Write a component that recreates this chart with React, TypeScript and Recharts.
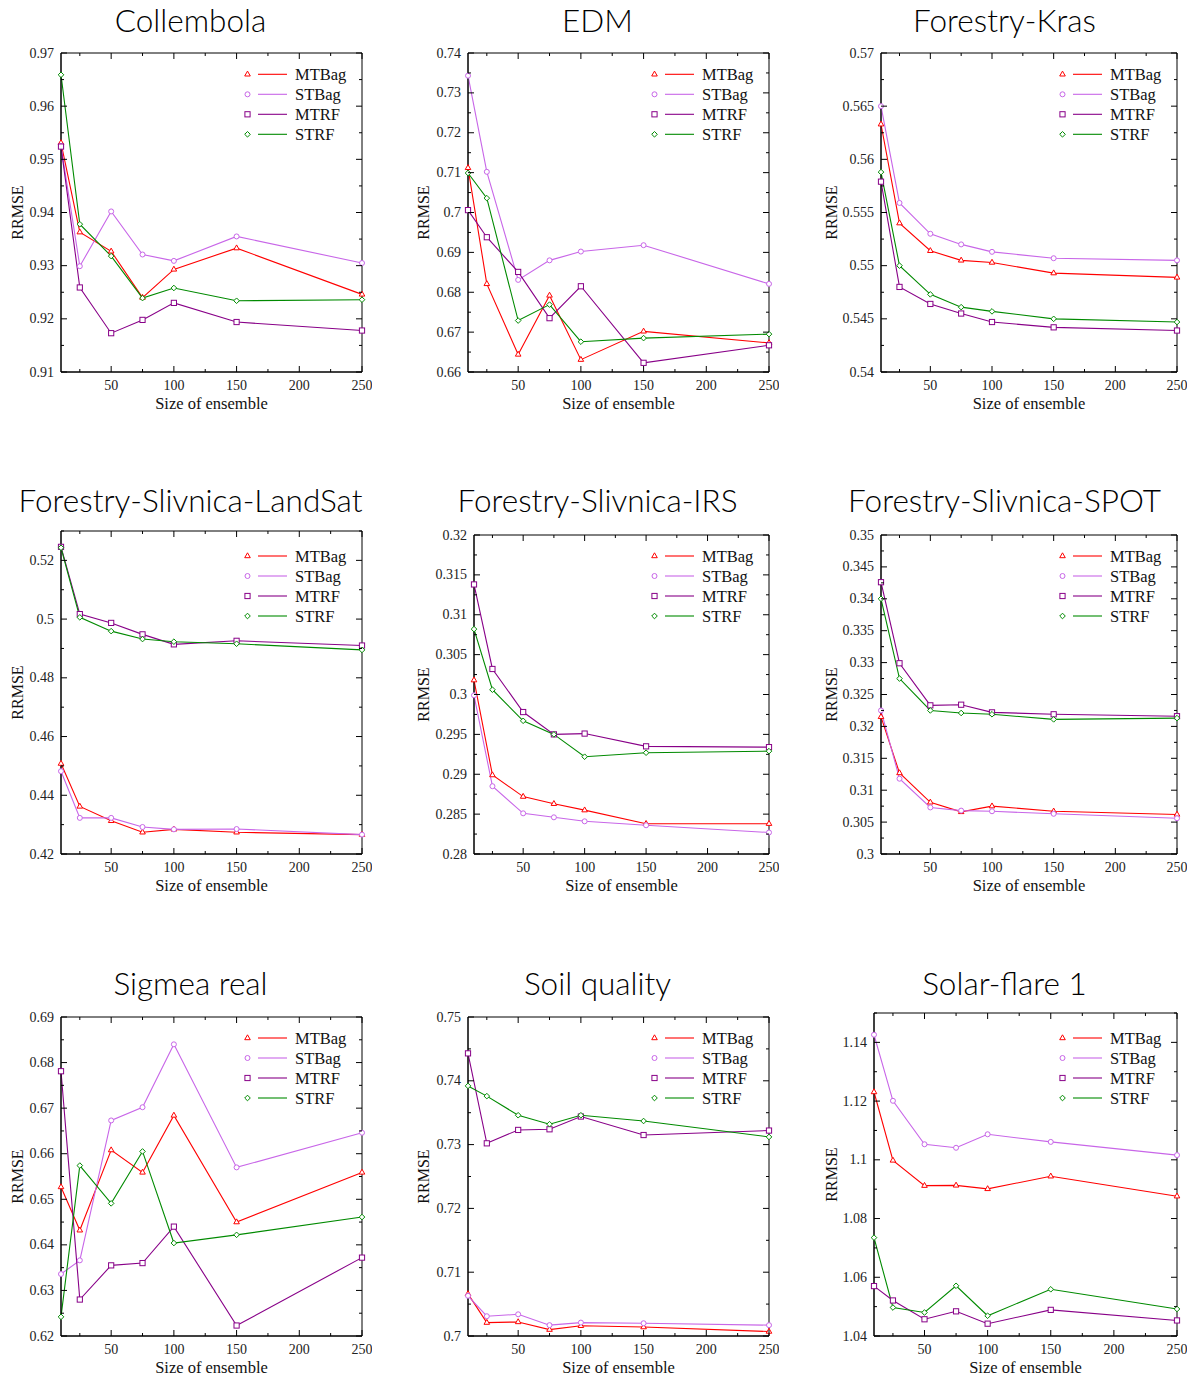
import React from "react";
import { LineChart, Line, XAxis, YAxis, ReferenceArea } from "recharts";

// ensemble sizes on the x axis
const SIZES = [10, 25, 50, 75, 100, 150, 250];
const X_TICKS = [25, 50, 75, 100, 125, 150, 175, 200, 225, 250];
const X_LABELED = [50, 100, 150, 200, 250];

const SERIES = ["MTBag", "STBag", "MTRF", "STRF"];
const COLORS: Record<string, string> = { MTBag: "#ff0000", STBag: "#c866e8", MTRF: "#880088", STRF: "#008a00" };
const SHAPES: Record<string, string> = { MTBag: "triangle", STBag: "circle", MTRF: "square", STRF: "diamond" };

// Collembola
const collembolaMTBag = [0.9531, 0.9363, 0.9327, 0.924, 0.9293, 0.9333, 0.9246];
const collembolaSTBag = [0.9525, 0.9299, 0.9402, 0.9321, 0.9309, 0.9355, 0.9305];
const collembolaMTRF = [0.9524, 0.9259, 0.9173, 0.9198, 0.923, 0.9194, 0.9178];
const collembolaSTRF = [0.9659, 0.9378, 0.9318, 0.9239, 0.9258, 0.9234, 0.9236];
const collembolaYTicks = [0.91, 0.92, 0.93, 0.94, 0.95, 0.96, 0.97];

// EDM
const edmMTBag = [0.7112, 0.6821, 0.6644, 0.6792, 0.6631, 0.6702, 0.6673];
const edmSTBag = [0.7343, 0.7102, 0.6831, 0.688, 0.6902, 0.6918, 0.6821];
const edmMTRF = [0.7006, 0.6938, 0.6851, 0.6735, 0.6815, 0.6623, 0.6667];
const edmSTRF = [0.7099, 0.7036, 0.6729, 0.6769, 0.6676, 0.6685, 0.6695];
const edmYTicks = [0.66, 0.67, 0.68, 0.69, 0.7, 0.71, 0.72, 0.73, 0.74];

// Forestry-Kras
const krasMTBag = [0.5633, 0.554, 0.5514, 0.5505, 0.5503, 0.5493, 0.5489];
const krasSTBag = [0.565, 0.5559, 0.553, 0.552, 0.5513, 0.5507, 0.5505];
const krasMTRF = [0.5579, 0.548, 0.5464, 0.5455, 0.5447, 0.5442, 0.5439];
const krasSTRF = [0.5588, 0.55, 0.5473, 0.5461, 0.5457, 0.545, 0.5447];
const krasYTicks = [0.54, 0.545, 0.55, 0.555, 0.56, 0.565, 0.57];

// Forestry-Slivnica-LandSat
const landsatMTBag = [0.4508, 0.4362, 0.4313, 0.4274, 0.4284, 0.4274, 0.4266];
const landsatSTBag = [0.4482, 0.4323, 0.4323, 0.4292, 0.4284, 0.4285, 0.4266];
const landsatMTRF = [0.5246, 0.5017, 0.4987, 0.4948, 0.4914, 0.4926, 0.491];
const landsatSTRF = [0.5243, 0.5006, 0.4959, 0.4932, 0.4923, 0.4916, 0.4895];
const landsatYTicks = [0.42, 0.44, 0.46, 0.48, 0.5, 0.52];

// Forestry-Slivnica-IRS
const irsMTBag = [0.3018, 0.2899, 0.2872, 0.2863, 0.2855, 0.2838, 0.2838];
const irsSTBag = [0.2999, 0.2885, 0.2851, 0.2846, 0.2841, 0.2836, 0.2827];
const irsMTRF = [0.3138, 0.3032, 0.2978, 0.295, 0.2951, 0.2935, 0.2934];
const irsSTRF = [0.3082, 0.3006, 0.2967, 0.295, 0.2922, 0.2927, 0.2929];
const irsYTicks = [0.28, 0.285, 0.29, 0.295, 0.3, 0.305, 0.31, 0.315, 0.32];

// Forestry-Slivnica-SPOT
const spotMTBag = [0.3215, 0.3127, 0.3081, 0.3066, 0.3075, 0.3067, 0.3062];
const spotSTBag = [0.3225, 0.3118, 0.3073, 0.3068, 0.3067, 0.3063, 0.3056];
const spotMTRF = [0.3426, 0.3299, 0.3233, 0.3234, 0.3222, 0.3219, 0.3216];
const spotSTRF = [0.34, 0.3275, 0.3225, 0.3221, 0.3219, 0.3211, 0.3213];
const spotYTicks = [0.3, 0.305, 0.31, 0.315, 0.32, 0.325, 0.33, 0.335, 0.34, 0.345, 0.35];

// Sigmea real
const sigmeaMTBag = [0.6527, 0.6432, 0.6608, 0.6559, 0.6684, 0.645, 0.6559];
const sigmeaSTBag = [0.6336, 0.6366, 0.6673, 0.6702, 0.684, 0.657, 0.6646];
const sigmeaMTRF = [0.6781, 0.628, 0.6355, 0.636, 0.644, 0.6223, 0.6372];
const sigmeaSTRF = [0.6242, 0.6574, 0.6491, 0.6605, 0.6404, 0.6422, 0.6461];
const sigmeaYTicks = [0.62, 0.63, 0.64, 0.65, 0.66, 0.67, 0.68, 0.69];

// Soil quality
const soilMTBag = [0.7066, 0.7021, 0.7022, 0.701, 0.7016, 0.7014, 0.7007];
const soilSTBag = [0.7063, 0.7031, 0.7034, 0.7017, 0.7021, 0.702, 0.7017];
const soilMTRF = [0.7443, 0.7302, 0.7323, 0.7324, 0.7344, 0.7315, 0.7322];
const soilSTRF = [0.7392, 0.7376, 0.7346, 0.7332, 0.7346, 0.7337, 0.7312];
const soilYTicks = [0.7, 0.71, 0.72, 0.73, 0.74, 0.75];

// Solar-flare 1
const solarMTBag = [1.1231, 1.0998, 1.0912, 1.0913, 1.0901, 1.0944, 1.0876];
const solarSTBag = [1.1426, 1.1201, 1.1053, 1.1041, 1.1087, 1.1061, 1.1016];
const solarMTRF = [1.057, 1.0521, 1.0457, 1.0484, 1.0442, 1.0489, 1.0453];
const solarSTRF = [1.0735, 1.0497, 1.048, 1.0571, 1.0469, 1.0559, 1.0492];
const solarYTicks = [1.04, 1.06, 1.08, 1.1, 1.12, 1.14];

const SERIF = "'Liberation Serif', 'Times New Roman', serif";
const SANS = "Lato, 'Open Sans', sans-serif";

// box = plot area in page pixels [left, top, right, bottom]
const PANELS = [
  { title: "Collembola", box: [61, 53, 362, 372], yTicks: collembolaYTicks, yMax: 0.97, values: [collembolaMTBag, collembolaSTBag, collembolaMTRF, collembolaSTRF], col: 0, row: 0 },
  { title: "EDM", box: [468, 53, 769, 372], yTicks: edmYTicks, yMax: 0.74, values: [edmMTBag, edmSTBag, edmMTRF, edmSTRF], col: 1, row: 0 },
  { title: "Forestry-Kras", box: [881, 53, 1177, 372], yTicks: krasYTicks, yMax: 0.57, values: [krasMTBag, krasSTBag, krasMTRF, krasSTRF], col: 2, row: 0 },
  { title: "Forestry-Slivnica-LandSat", box: [61, 531, 362, 854], yTicks: landsatYTicks, yMax: 0.53, values: [landsatMTBag, landsatSTBag, landsatMTRF, landsatSTRF], col: 0, row: 1 },
  { title: "Forestry-Slivnica-IRS", box: [474, 535, 769, 854], yTicks: irsYTicks, yMax: 0.32, values: [irsMTBag, irsSTBag, irsMTRF, irsSTRF], col: 1, row: 1 },
  { title: "Forestry-Slivnica-SPOT", box: [881, 535, 1177, 854], yTicks: spotYTicks, yMax: 0.35, values: [spotMTBag, spotSTBag, spotMTRF, spotSTRF], col: 2, row: 1 },
  { title: "Sigmea real", box: [61, 1017, 362, 1336], yTicks: sigmeaYTicks, yMax: 0.69, values: [sigmeaMTBag, sigmeaSTBag, sigmeaMTRF, sigmeaSTRF], col: 0, row: 2 },
  { title: "Soil quality", box: [468, 1017, 769, 1336], yTicks: soilYTicks, yMax: 0.75, values: [soilMTBag, soilSTBag, soilMTRF, soilSTRF], col: 1, row: 2 },
  { title: "Solar-flare 1", box: [874, 1013, 1177, 1336], yTicks: solarYTicks, yMax: 1.15, values: [solarMTBag, solarSTBag, solarMTRF, solarSTRF], col: 2, row: 2 },
];

const TITLE_X = [190.5, 597.5, 1004.5];
const TITLE_Y = [32, 512, 994.5];
const LEGEND_Y = [74.3, 556, 1038];
const YLABEL_X = [23, 429, 836.5];

// chart margins around the plot box
const M_LEFT = 60;
const M_TOP = 10;
const M_RIGHT = 10;

const fmt = (v: number) => String(Number(v.toFixed(4)));
const near = (a: number, list: number[]) => list.some((b) => Math.abs(a - b) < 1e-9);

function withMinors(majors: number[], max: number) {
  const step = majors[1] - majors[0];
  const out: number[] = [];
  majors.forEach((m) => {
    out.push(m);
    const h = m + step / 2;
    if (h <= max + 1e-9) out.push(Number(h.toFixed(5)));
  });
  return out;
}

function Marker({ kind, cx, cy, color }: any) {
  if (cx == null || cy == null) return null;
  const common = { fill: "#fff", stroke: color, strokeWidth: 1 };
  if (kind === "triangle")
    return <polygon {...common} points={`${cx},${cy - 3.2} ${cx - 2.8},${cy + 1.7} ${cx + 2.8},${cy + 1.7}`} />;
  if (kind === "circle") return <circle {...common} cx={cx} cy={cy} r={2.5} />;
  if (kind === "square") return <rect {...common} x={cx - 2.6} y={cy - 2.6} width={5.2} height={5.2} />;
  return <polygon {...common} points={`${cx},${cy - 2.8} ${cx + 2.8},${cy} ${cx},${cy + 2.8} ${cx - 2.8},${cy}`} />;
}

const tickText = { fontFamily: SERIF, fontSize: 14, fill: "#222" };

function Panel({ p }: { p: any }) {
  const [L, T, R, B] = p.box;
  const yTicks = withMinors(p.yTicks, p.yMax);
  const data = SIZES.map((s, i) => {
    const row: any = { x: s };
    SERIES.forEach((name, k) => (row[name] = p.values[k][i]));
    return row;
  });
  const w = R - L + M_LEFT + M_RIGHT;
  const h = B - T + M_TOP + 30;
  const plotTop = M_TOP;
  const plotRight = w - M_RIGHT;

  // bottom ticks, mirrored on the top edge, all pointing inward
  const bottomTick = (t: any) => {
    const v = t.payload.value;
    const major = near(v, X_LABELED);
    const len = major ? 6 : 3;
    return (
      <g>
        <line x1={t.x} x2={t.x} y1={t.y} y2={t.y - len} stroke="#000" strokeWidth={1} />
        <line x1={t.x} x2={t.x} y1={plotTop} y2={plotTop + len} stroke="#000" strokeWidth={1} />
        {major && <text x={t.x} y={t.y + 18} textAnchor="middle" {...tickText}>{fmt(v)}</text>}
      </g>
    );
  };
  // left ticks, mirrored on the right edge
  const leftTick = (t: any) => {
    const v = t.payload.value;
    const major = near(v, p.yTicks);
    const len = major ? 6 : 3;
    return (
      <g>
        <line x1={t.x} x2={t.x + len} y1={t.y} y2={t.y} stroke="#000" strokeWidth={1} />
        <line x1={plotRight} x2={plotRight - len} y1={t.y} y2={t.y} stroke="#000" strokeWidth={1} />
        {major && <text x={t.x - 7} y={t.y + 4.5} textAnchor="end" {...tickText}>{fmt(v)}</text>}
      </g>
    );
  };

  return (
    <div style={{ position: "absolute", left: L - M_LEFT, top: T - M_TOP }}>
      <LineChart width={w} height={h} data={data} margin={{ top: M_TOP, right: M_RIGHT, left: 0, bottom: 0 }}>
        <XAxis dataKey="x" type="number" domain={[10, 250]} ticks={X_TICKS} interval={0}
          height={30} tickSize={0} tickMargin={0} tickLine={false} tick={bottomTick}
          axisLine={{ stroke: "#000", strokeWidth: 1 }} />
        <YAxis type="number" domain={[p.yTicks[0], p.yMax]} ticks={yTicks} interval={0}
          width={M_LEFT} tickSize={0} tickMargin={0} tickLine={false} tick={leftTick}
          axisLine={{ stroke: "#000", strokeWidth: 1 }} />
        <ReferenceArea x1={10} x2={250} y1={p.yTicks[0]} y2={p.yMax} fill="none" fillOpacity={0}
          stroke="#000" strokeWidth={1} ifOverflow="visible" />
        {SERIES.map((name) => (
          <Line key={name} type="linear" dataKey={name} stroke={COLORS[name]}
            strokeWidth={1.1} isAnimationActive={false} activeDot={false}
            dot={(d: any) => <Marker key={`${name}-${d.index}`} kind={SHAPES[name]} cx={d.cx} cy={d.cy} color={COLORS[name]} />} />
        ))}
      </LineChart>
    </div>
  );
}

function Overlay() {
  return (
    <svg width={1190} height={1377} style={{ position: "absolute", left: 0, top: 0, pointerEvents: "none" }}>
      {PANELS.map((p) => {
        const [L, T, R, B] = p.box;
        const cy = (T + B) / 2;
        const ly = LEGEND_Y[p.row];
        return (
          <g key={p.title}>
            <text x={TITLE_X[p.col]} y={TITLE_Y[p.row]} textAnchor="middle" fontFamily={SANS} fontSize={31.5} fontWeight={300} fill="#000">{p.title}</text>
            <text x={(L + R) / 2} y={B + 37} textAnchor="middle" fontFamily={SERIF} fontSize={16.5} fill="#111">Size of ensemble</text>
            <text x={YLABEL_X[p.col]} y={cy} textAnchor="middle" fontFamily={SERIF} fontSize={16} fill="#111"
              transform={`rotate(-90 ${YLABEL_X[p.col]} ${cy})`}>RRMSE</text>
            {SERIES.map((name, i) => {
              const y = ly + 20 * i;
              return (
                <g key={name}>
                  <Marker kind={SHAPES[name]} cx={R - 114.5} cy={y} color={COLORS[name]} />
                  <line x1={R - 104} x2={R - 75} y1={y} y2={y} stroke={COLORS[name]} strokeWidth={1.1} />
                  <text x={R - 67} y={y + 6} fontFamily={SERIF} fontSize={16.5} fill="#111">{name}</text>
                </g>
              );
            })}
          </g>
        );
      })}
    </svg>
  );
}

export default function App() {
  return (
    <div style={{ position: "absolute", left: 0, top: 0, width: 1190, height: 1377, background: "#fff" }}>
      {PANELS.map((p) => (
        <Panel key={p.title} p={p} />
      ))}
      <Overlay />
    </div>
  );
}
